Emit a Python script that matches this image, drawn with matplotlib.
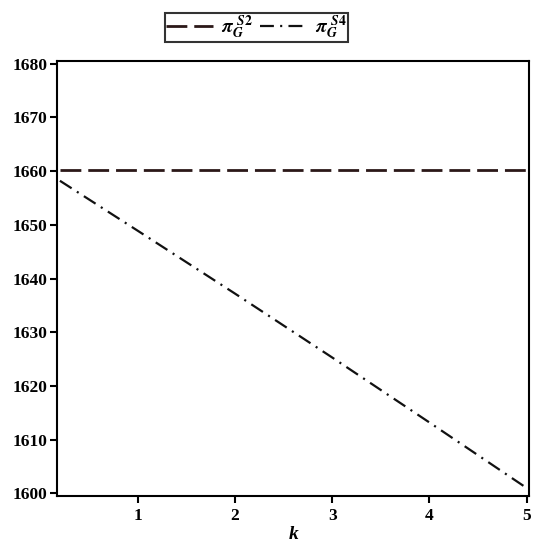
import matplotlib
matplotlib.use("Agg")
import matplotlib.pyplot as plt

# Data
k_vals = [0.2, 1, 2, 3, 4, 5]
pi_s2 = [1660.3, 1660.3, 1660.3, 1660.3, 1660.3, 1660.3]
pi_s4 = [1658.2, 1648.9, 1637.2, 1625.3, 1613.2, 1601.0]
x_ticks = [1, 2, 3, 4, 5]
y_ticks = [1600, 1610, 1620, 1630, 1640, 1650, 1660, 1670, 1680]
labels = [r'$\pi_G^{\ S2}$', r'$\pi_G^{\ S4}$']

plt.rcParams['font.family'] = ['Liberation Serif', 'DejaVu Serif']
plt.rcParams['font.weight'] = 'bold'
plt.rcParams['mathtext.fontset'] = 'stix'
plt.rcParams['lines.scale_dashes'] = False

fig = plt.figure(figsize=(5.5, 5.48), dpi=100)
ax = fig.add_axes([0.1042, 0.0949, 0.8585, 0.7943])

l1, = ax.plot(k_vals, pi_s2, color='#2b1818', linewidth=2.0,
              linestyle=(0, (15.0, 5.0)), label=labels[0])
l2, = ax.plot(k_vals, pi_s4, color='#111111', linewidth=1.6,
              linestyle=(0, (10.0, 4.5, 1.5, 4.5)), label=labels[1])

ax.set_xlim(0.173, 5.03)
ax.set_ylim(1599.5, 1680.56)
ax.set_xticks(x_ticks)
ax.set_yticks(y_ticks)
ax.tick_params(axis='both', direction='out', length=5, width=1.5,
               labelsize=12.5, top=False, right=False)
ax.tick_params(axis='x', pad=4)
ax.tick_params(axis='y', pad=2)
for lab in ax.get_xticklabels() + ax.get_yticklabels():
    lab.set_fontweight('bold')
for sp in ax.spines.values():
    sp.set_linewidth(1.5)
    sp.set_color('black')

ax.set_xlabel('k', fontsize=14, fontstyle='italic', fontweight='bold', labelpad=1)

leg = fig.legend(handles=[l1, l2], loc='center', bbox_to_anchor=(0.4664, 0.9498),
                 ncol=2, frameon=True, fancybox=False, shadow=False,
                 fontsize=14, handlelength=2.4, handletextpad=0.4,
                 columnspacing=0.4, borderpad=0.05, borderaxespad=0)
leg.get_frame().set_edgecolor('black')
leg.get_frame().set_linewidth(1.5)

fig.savefig('out.png', dpi=100)
